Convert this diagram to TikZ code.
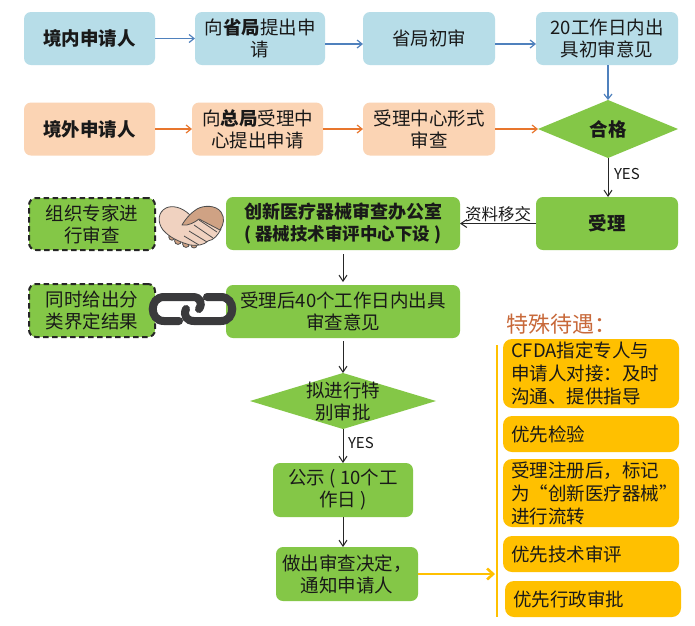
\documentclass[tikz,border=0pt]{standalone}
\usepackage{fontspec}
\setmainfont{Noto Sans CJK SC}
\usetikzlibrary{shapes.geometric,arrows.meta,calc}
\definecolor{cblue}{HTML}{B7DDE8}
\definecolor{cpeach}{HTML}{FBD4B4}
\definecolor{cgreen}{HTML}{84C747}
\definecolor{cgold}{HTML}{FFC000}
\definecolor{cbluel}{HTML}{4F81BD}
\definecolor{corangel}{HTML}{E8762D}
\definecolor{ctitle}{HTML}{C8693A}
\definecolor{cskin}{HTML}{F0D2C0}
\definecolor{cskind}{HTML}{CFA284}
\definecolor{cchain}{HTML}{3A3A3C}
\tikzset{
 every node/.style={font=\fontsize{18.5}{22}\selectfont,text=black!90,align=center,inner sep=0pt,outer sep=0pt},
 flowbox/.style={rounded corners=7pt,minimum height=#1},
 flowbox/.default=53pt,
 bluebox/.style={flowbox,fill=cblue},
 peachbox/.style={flowbox,fill=cpeach},
 greenbox/.style={flowbox,fill=cgreen},
 dashbox/.style={flowbox,fill=cgreen,draw=black!85,line width=2pt,dash pattern=on 5.5pt off 3.5pt},
 goldbox/.style={rounded corners=9pt,fill=cgold,align=left,font=\fontsize{18.5}{23}\selectfont,minimum width=176pt,text width=160pt},
 gem/.style={diamond,aspect=2.4,fill=cgreen,inner sep=0pt},
 blueline/.style={draw=cbluel,line width=1.2pt,-{Straight Barb[length=5pt,width=8pt]}},
 orangeline/.style={draw=corangel,line width=1.2pt,-{Straight Barb[length=5pt,width=8pt]}},
 blackline/.style={draw=black!85,line width=1pt,-{Straight Barb[length=6pt,width=8pt]}},
 goldline/.style={draw=cgold,line width=2.6pt},
 hand/.style={draw=black!70,line width=.8pt,line join=round},
 chainlink/.style={draw=cchain,line width=8pt,line cap=round},
}
\begin{document}
\begin{tikzpicture}[x=1pt,y=-1pt]
\useasboundingbox (0,0) rectangle (695,625);
\fill[white] (0,0) rectangle (695,625);

% top rows
\node[bluebox,minimum width=131pt] (a1) at (89.5,38.5) {\textbf{境内申请人}};
\node[bluebox,minimum width=130pt] (a2) at (260,38.5) {向\textbf{省局}提出申\\请};
\node[bluebox,minimum width=132pt] (a3) at (429,38.5) {省局初审};
\node[bluebox,minimum width=142pt] (a4) at (607,38.5) {20工作日内出\\具初审意见};
\node[peachbox,minimum width=131pt] (b1) at (89.5,129) {\textbf{境外申请人}};
\node[peachbox,minimum width=131pt] (b2) at (257.5,129) {向\textbf{总局}受理中\\心提出申请};
\node[peachbox,minimum width=132pt] (b3) at (429,129) {受理中心形式\\审查};
\node[gem,minimum width=140pt,minimum height=58pt] (d1) at (608,129) {\textbf{合格}};
\node[greenbox,minimum width=142pt] (c1) at (607,223.5) {\textbf{受理}};
\node[greenbox,minimum width=234pt] (c2) at (343,223.5) {\fontsize{18}{23}\selectfont\textbf{创新医疗器械审查办公室}\\\fontsize{17.5}{23}\selectfont\textbf{( 器械技术审评中心下设 )}};
\node[dashbox,minimum width=126pt,minimum height=52pt] (e1) at (92,224) {组织专家进\\行审查};
\node[dashbox,minimum width=126pt,minimum height=53pt] (e2) at (92,310.5) {同时给出分\\类界定结果};
\node[greenbox,minimum width=234pt] (c3) at (343,311.5) {受理后40个工作日内出具\\审查意见};
\node[gem,minimum width=186pt,minimum height=56pt,aspect=3.3,inner sep=-3pt] (d2) at (343,401) {拟进行特\\别审批};
\node[greenbox,minimum width=140pt,minimum height=54pt] (c4) at (343,490) {公示 ( 10个工\\作日 )};
\node[greenbox,minimum width=142pt,minimum height=54pt] (c5) at (347,574) {做出审查决定，\\通知申请人};

% connectors
\draw[blueline] (a1.east) -- (a2.west |- a1.east);
\draw[blueline] (a2) ++(65,5.5) coordinate (p1) -- (a3.west |- p1);
\draw[blueline] (a3) ++(66,5.5) coordinate (p2) -- (a4.west |- p2);
\draw[blueline] (a4.south -| d1.north) -- (d1.north);
\draw[orangeline] (b1) -- (b2);
\draw[orangeline] (b2) -- (b3);
\draw[orangeline] (b3) -- (d1);
\draw[blackline] (d1.south) -- (c1.north -| d1.south) node[pos=.42,right=6pt,font=\fontsize{15}{18}\selectfont] (y1) {YES};
\draw[blackline] (c1) -- (c2) node[midway,above=2pt,font=\fontsize{16.5}{18}\selectfont] (zl) {资料移交};
\coordinate (q1) at ($(c2.south)+(0,4)$);
\coordinate (q2) at ($(c3.north)+(0,-3)$);
\draw[blackline] (q1) -- (q2);
\coordinate (q3) at ($(c3.south)+(0,3)$);
\draw[blackline] (q3) -- (d2.north);
\draw[blackline] (d2.south) -- (c4.north) node[pos=.42,right=5pt,font=\fontsize{15}{18}\selectfont] (y2) {YES};
\draw[blackline] (c4.south) -- (c5.north -| c4.south);
\coordinate (g0) at (497,345);
\coordinate (g1) at (497,617);
\coordinate (g2) at (495,574);
\draw[goldline] (g0) -- (g1);
\draw[goldline,-{Straight Barb[length=6pt,width=11pt]}] (c5.east) -- (g2);

% gold panel
\node[font=\fontsize{22}{26}\selectfont,text=ctitle] (t) at (561,324) {特殊待遇：};
\node[goldbox,minimum height=69pt] (g3) at (591,373.5) {CFDA指定专人与\\申请人对接：及时\\沟通、提供指导};
\node[goldbox,minimum height=36pt] (g4) at (591,434) {优先检验};
\node[goldbox,minimum height=68pt] (g5) at (591,493) {受理注册后，标记\\为“创新医疗器械”\\进行流转};
\node[goldbox,minimum height=36pt] (g6) at (591,554) {优先技术审评};
\node[goldbox,minimum height=36pt] (g7) at (593,599) {优先行政审批};

% handshake icon
\begin{scope}[hand]
 \filldraw[fill=cskind] (172,237) circle (3.2pt);
 \filldraw[fill=cskind] (178,241) circle (3.4pt);
 \filldraw[fill=cskind] (186,244) circle (3.4pt);
 \filldraw[fill=cskind] (194,245) circle (3pt);
 \filldraw[fill=cskin] (190,215) .. controls (182,207) and (172,205) .. (166,208)
   .. controls (158,212) and (157,222) .. (163,230)
   .. controls (170,238) and (180,242) .. (190,245)
   .. controls (197,246) and (204,245) .. (208,241)
   .. controls (214,240) and (218,235) .. (221,229)
   -- (198,216) -- cycle;
 \filldraw[fill=cskind] (182,225) .. controls (186,218) and (192,212) .. (197,209)
   .. controls (204,205) and (216,205) .. (221,212)
   .. controls (225,218) and (224,224) .. (220,230)
   -- (199,219) .. controls (195,222) and (189,226) .. (182,225) -- cycle;
 \draw (199,220) -- (217,232);
 \draw (194,225) -- (213,238);
 \draw (189,231) -- (207,242);
 \draw (184,236) -- (199,245);
\end{scope}

% chain icon
\draw[chainlink] (199,309) .. controls (203,303) and (200,297) .. (193,297) -- (164,297)
   .. controls (149,297) and (149,321) .. (164,321) -- (179,321);
\draw[chainlink] (186,309) .. controls (183,316) and (187,321) .. (194,321) -- (221,321)
   .. controls (236,321) and (236,297) .. (221,297) -- (207,297);
\end{tikzpicture}
\end{document}
